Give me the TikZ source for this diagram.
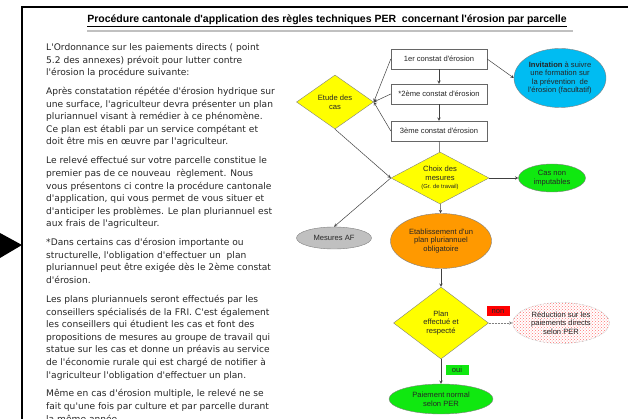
\documentclass[tikz,border=0pt]{standalone}
\usepackage{fontspec}
\newfontfamily\arial{Liberation Sans}
\newfontfamily\verdana{DejaVu Sans}
\usetikzlibrary{shapes.geometric, arrows, patterns}
\definecolor{jaune}{RGB}{255,255,0}
\definecolor{bleu}{RGB}{0,188,242}
\definecolor{vert}{RGB}{16,232,16}
\definecolor{orange}{RGB}{255,153,0}
\definecolor{gris}{RGB}{192,192,192}
\definecolor{rouge}{RGB}{255,0,0}
\tikzset{
  >=stealth,
  x=1pt, y=-1pt,
  every node/.style={font=\arial\fontsize{7.6}{8.6}\selectfont, align=center, text=black!85},
  flow/.style={->, draw=black!75, line width=0.5pt},
  trait/.style={draw=black!75, line width=0.5pt},
  constat/.style={rectangle, draw=black!60, fill=white, minimum width=96pt, minimum height=20pt, inner sep=0pt},
  decision/.style={diamond, draw=black!50, fill=jaune, inner sep=0pt},
  bulle/.style={ellipse, draw=black!50, inner sep=0pt},
  etiquette/.style={rectangle, inner sep=0pt, minimum width=23pt, minimum height=10pt},
  notice/.style={anchor=north west, inner sep=0pt, align=left,
    font=\verdana\fontsize{9.1}{12.6}\selectfont, text=black!85},
}

\begin{document}
\begin{tikzpicture}
  \useasboundingbox (0,0) rectangle (628,419);

  \draw[line width=1.6pt] (22,419) -- (22,7) -- (628,7);
  \fill (0,233) -- (22,245) -- (0,258) -- cycle;
  \draw[gris, line width=1.5pt] (87,31) -- (573,31);
  \node[font=\arial\bfseries\fontsize{10.5}{12}\selectfont, text=black] (titre) at (327,21)
    {\underline{Procédure cantonale d'application des règles techniques PER~ concernant l'érosion par parcelle}};

  \node[notice] (texte) at (46,43.3) {L'Ordonnance sur les paiements directs ( point\\
    5.2 des annexes) prévoit pour lutter contre\\
    l'érosion la procédure suivante:\\[6.3pt]
    Après constatation répétée d'érosion hydrique sur\\
    une surface, l'agriculteur devra présenter un plan\\
    pluriannuel visant à remédier à ce phénomène.\\
    Ce plan est établi par un service compétant et\\
    doit être mis en œuvre par l'agriculteur.\\[6.3pt]
    Le relevé effectué sur votre parcelle constitue le\\
    premier pas de ce nouveau~ règlement. Nous\\
    vous présentons ci contre la procédure cantonale\\
    d'application, qui vous permet de vous situer et\\
    d'anticiper les problèmes. Le plan pluriannuel est\\
    aux frais de l'agriculteur.\\[6.3pt]
    *Dans certains cas d'érosion importante ou\\
    structurelle, l'obligation d'effectuer un~ plan\\
    pluriannuel peut être exigée dès le 2ème constat\\
    d'érosion.\\[6.3pt]
    Les plans pluriannuels seront effectués par les\\
    conseillers spécialisés de la FRI. C'est également\\
    les conseillers qui étudient les cas et font des\\
    propositions de mesures au groupe de travail qui\\
    statue sur les cas et donne un préavis au service\\
    de l'économie rurale qui est chargé de notifier à\\
    l'agriculteur l'obligation d'effectuer un plan.\\[6.3pt]
    Même en cas d'érosion multiple, le relevé ne se\\
    fait qu'une fois par culture et par parcelle durant\\
    la même année.};

  \node[constat] (c1) at (439,59) {1er constat d'érosion};
  \node[constat] (c2) at (439,94) {*2ème constat d'érosion};
  \node[constat] (c3) at (439,131) {3ème constat d'érosion};
  \node[decision, minimum width=77pt, minimum height=54pt, shape aspect=1.43] (etude) at (335,102) {Etude des\\cas};
  \node[bulle, fill=bleu, minimum width=92pt, minimum height=59pt] (invit) at (560,78)
    {\textbf{Invitation} à suivre\\une formation sur\\la prévention~ de\\l'érosion (facultatif)};
  \node[decision, minimum width=98pt, minimum height=52pt, shape aspect=1.88] (choix) at (440,178)
    {Choix des\\mesures\\{\fontsize{5.8}{7.5}\selectfont (Gr. de travail)}};
  \node[bulle, fill=vert, minimum width=67pt, minimum height=28pt] (nonimp) at (552,178) {Cas non\\imputables};
  \node[bulle, fill=gris, minimum width=75pt, minimum height=22pt] (mesaf) at (334,238) {Mesures AF};
  \node[bulle, fill=orange, minimum width=101pt, minimum height=55pt] (pp) at (441,241)
    {Etablissement d'un\\plan pluriannuel\\obligatoire};
  \node[decision, minimum width=95pt, minimum height=72pt, shape aspect=1.32] (plan) at (441,323)
    {Plan\\effectué et\\respecté};
  \node[bulle, draw=black!45, densely dotted, fill=red!6, pattern=crosshatch dots, pattern color=red!55,
    minimum width=97pt, minimum height=41pt] (reduc) at (561,323)
    {Réduction sur les\\paiements directs\\selon PER};
  \node[bulle, fill=vert, minimum width=104pt, minimum height=30pt] (paie) at (441,399) {Paiement normal\\selon PER};
  \node[etiquette, fill=rouge] (non) at (498,311) {non};
  \node[etiquette, fill=vert] (oui) at (457,370) {oui};

  \draw[flow] (c1) -- (c2);
  \draw[flow] (c2) -- (c3);
  \draw[flow] (c1.east) -- (invit.west);
  \draw[flow] (c1.west) -- (etude.east);
  \draw[flow] (c2.west) -- (etude.east);
  \draw[flow] (c3.west) -- (etude.east);
  \draw[trait] (c3) -- (choix);
  \draw[flow] (etude.south) -- (choix.west);
  \draw[flow] (choix.west) -- (mesaf.north);
  \draw[flow] (choix) -- (nonimp);
  \draw[flow] (choix) -- (pp);
  \draw[flow] (pp) -- (plan);
  \draw[flow, draw=black!50, densely dotted] (plan) -- (reduc);
  \draw[flow] (plan) -- (paie);
\end{tikzpicture}
\end{document}
